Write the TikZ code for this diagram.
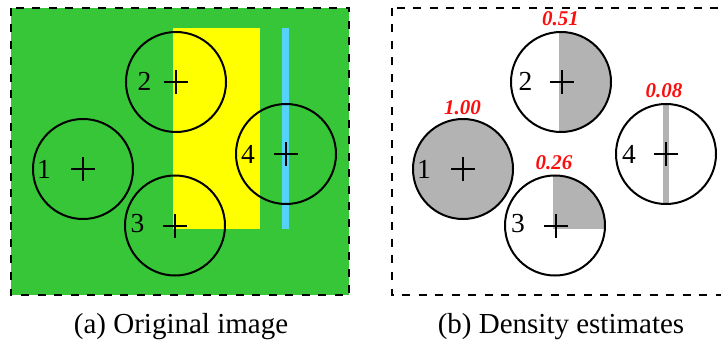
\documentclass[tikz,border=0pt]{standalone}
\usepackage{fontspec}
\setmainfont{Liberation Serif}
\definecolor{imggreen}{RGB}{55,198,55}
\definecolor{imgyellow}{RGB}{255,255,0}
\definecolor{imgcyan}{RGB}{85,210,250}
\definecolor{shadegray}{RGB}{179,179,179}
\definecolor{estred}{RGB}{250,15,15}
\tikzset{
  frame/.style={draw=black, line width=2.5pt, dash pattern=on 8pt off 8.5pt},
  ring/.style={circle, draw=black, line width=2pt, minimum size=100pt, inner sep=0pt},
  idx/.style={inner sep=0pt, font=\fontsize{27.5}{30}\selectfont},
  est/.style={inner sep=0pt, anchor=base, text=estred, font=\fontsize{21}{23}\selectfont\bfseries\itshape},
  capt/.style={inner sep=0pt, anchor=base, font=\fontsize{29}{32}\selectfont},
  crossline/.style={line width=2pt}
}
\newcommand{\plusmark}[1]{\draw[crossline] ([xshift=-12pt]#1) -- ([xshift=12pt]#1) ([yshift=-12pt]#1) -- ([yshift=12pt]#1);}
\begin{document}
\begin{tikzpicture}[x=1pt,y=-1pt]
\useasboundingbox (0,0) rectangle (721,342);
% ---------- left panel ----------
\fill[imggreen] (11,8) rectangle (349,295);
\fill[imgyellow] (173,28) rectangle (260,229);
\fill[imgcyan] (282,28) rectangle (289,229);
\node[ring] (a1) at (83,169) {};
\node[ring] (a2) at (176,82) {};
\node[ring] (a3) at (175,225.5) {};
\node[ring] (a4) at (286,154) {};
\coordinate (pa1) at (83,169);
\coordinate (pa2) at (176,82);
\coordinate (pa3) at (175,226);
\coordinate (pa4) at (286,154);
\plusmark{pa1}\plusmark{pa2}\plusmark{pa3}\plusmark{pa4}
\node[idx] (la1) at (44,169) {1};
\node[idx] (la2) at (144.5,81.5) {2};
\node[idx] (la3) at (137.5,224) {3};
\node[idx] (la4) at (248,154) {4};
\draw[frame] (11,8) rectangle (349,295);
\node[capt] (capa) at (181,333) {(a) Original image};
% ---------- right panel ----------
\fill[shadegray] (463,169) circle (50pt);
\begin{scope}
  \clip (561,82) circle (50pt);
  \fill[shadegray] (559,20) rectangle (620,140);
\end{scope}
\begin{scope}
  \clip (555,225.5) circle (50pt);
  \fill[shadegray] (553,170) rectangle (610,229);
\end{scope}
\begin{scope}
  \clip (666,154) circle (50pt);
  \fill[shadegray] (663,100) rectangle (669,210);
\end{scope}
\node[ring] (b1) at (463,169) {};
\node[ring] (b2) at (561,82) {};
\node[ring] (b3) at (555,225.5) {};
\node[ring] (b4) at (666,154) {};
\coordinate (pb1) at (463,169);
\coordinate (pb2) at (562,82);
\coordinate (pb3) at (556,226);
\coordinate (pb4) at (666,154);
\plusmark{pb1}\plusmark{pb2}\plusmark{pb3}\plusmark{pb4}
\node[idx] (lb1) at (424,169) {1};
\node[idx] (lb2) at (525.5,81.5) {2};
\node[idx] (lb3) at (518,224) {3};
\node[idx] (lb4) at (629,154) {4};
\node[est] (e1) at (462.5,115) {1.00};
\node[est] (e2) at (560.5,26) {0.51};
\node[est] (e3) at (554,170) {0.26};
\node[est] (e4) at (664,98) {0.08};
\draw[frame] (392,8) rectangle (730,295);
\node[capt] (capb) at (561,333) {(b) Density estimates};
\end{tikzpicture}
\end{document}
